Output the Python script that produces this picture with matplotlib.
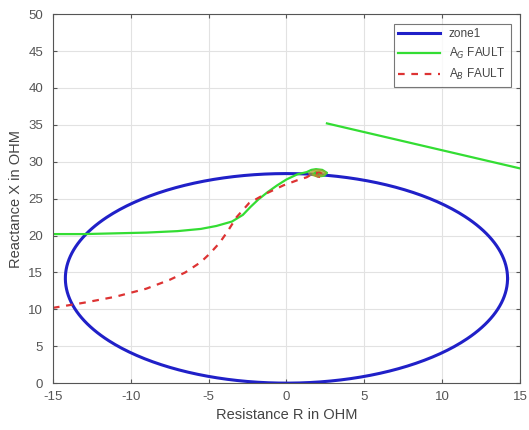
import matplotlib
matplotlib.use('Agg')
import numpy as np
import matplotlib.pyplot as plt

# mho zone circle
zone_center = (0.0, 14.2)
zone_radius = 14.2

# A-G fault impedance trajectory
ag_r = [-15, -13, -11, -9, -7, -5.5, -4.5, -3.5, -2.8, -2.3, -1.8, -1.2, -0.6, 0.0, 0.7,
        1.3, 1.6, 1.9, 2.3, 2.6, 2.4, 2.0, 1.7, 1.9, 2.2]
ag_x = [20.2, 20.2, 20.3, 20.4, 20.6, 20.9, 21.3, 21.9, 22.8, 23.9, 24.9, 25.9, 26.8, 27.6, 28.3,
        28.6, 28.9, 29.0, 28.9, 28.5, 28.1, 28.0, 28.3, 28.6, 28.4]
# second branch of the A-G trajectory
ag2_r = [2.6, 15.0]
ag2_x = [35.2, 29.1]

# A-B fault impedance trajectory
ab_r = [-15, -13, -11, -9, -7.5, -6.5, -5.5, -4.9, -4.3, -3.8, -3.2, -2.4, -1.3, -0.2, 0.7,
        1.3, 1.7, 2.1, 2.4, 2.2, 1.9, 2.0]
ab_x = [10.2, 10.9, 11.7, 12.8, 14.0, 15.0, 16.4, 17.6, 19.0, 20.5, 22.5, 24.4, 25.7, 26.8, 27.5,
        27.9, 28.4, 28.6, 28.3, 27.9, 28.1, 28.4]

# settling blob near the top of the zone
blob_r = [1.5, 1.8, 2.2, 2.5, 2.3, 1.9, 1.6]
blob_x = [28.4, 28.8, 28.8, 28.5, 28.2, 28.1, 28.3]

plt.rcParams['font.family'] = ['Liberation Sans', 'DejaVu Sans']
plt.rcParams['axes.unicode_minus'] = False

fig = plt.figure(figsize=(5.29, 4.30), dpi=100)
ax = fig.add_axes([0.100, 0.109, 0.883, 0.858])

theta = np.linspace(0, 2 * np.pi, 400)
ax.plot(zone_center[0] + zone_radius * np.cos(theta),
        zone_center[1] + zone_radius * np.sin(theta),
        color='#2020c8', linewidth=2.2, label='zone1')
ax.plot(ag_r, ag_x, color='#33dd33', linewidth=1.6, label='A$_G$ FAULT')
ax.plot(ag2_r, ag2_x, color='#33dd33', linewidth=1.6)
ax.plot(ab_r, ab_x, color='#dd3333', linewidth=1.6, linestyle=(0, (3, 3)), label='A$_B$ FAULT')
ax.plot(blob_r, blob_x, color='#a8a030', linewidth=2.0, alpha=0.75)

ax.set_xlim(-15, 15)
ax.set_ylim(0, 50)
ax.set_xticks(np.arange(-15, 16, 5))
ax.set_yticks(np.arange(0, 51, 5))
ax.grid(True, color='#e2e2e2', linewidth=0.8)
ax.set_axisbelow(True)
for sp in ax.spines.values():
    sp.set_color('#555555')
    sp.set_linewidth(0.8)
ax.tick_params(direction='in', length=3, colors='#555555', labelsize=9.5,
               top=True, right=True, labelcolor='#555555')
ax.tick_params(axis='x', pad=6)
ax.tick_params(axis='y', pad=7)

ax.set_xlabel('Resistance R in OHM', fontsize=10.5, color='#444444', labelpad=3)
ax.set_ylabel('Reactance X in OHM', fontsize=10.5, color='#444444', labelpad=4)

leg = ax.legend(loc='upper right', fontsize=8.5, frameon=True, fancybox=False,
                edgecolor='#555555', handlelength=3.5, borderaxespad=0.8)
leg.get_frame().set_linewidth(0.8)
for t in leg.get_texts():
    t.set_color('#444444')

fig.savefig('out.png', dpi=100)
